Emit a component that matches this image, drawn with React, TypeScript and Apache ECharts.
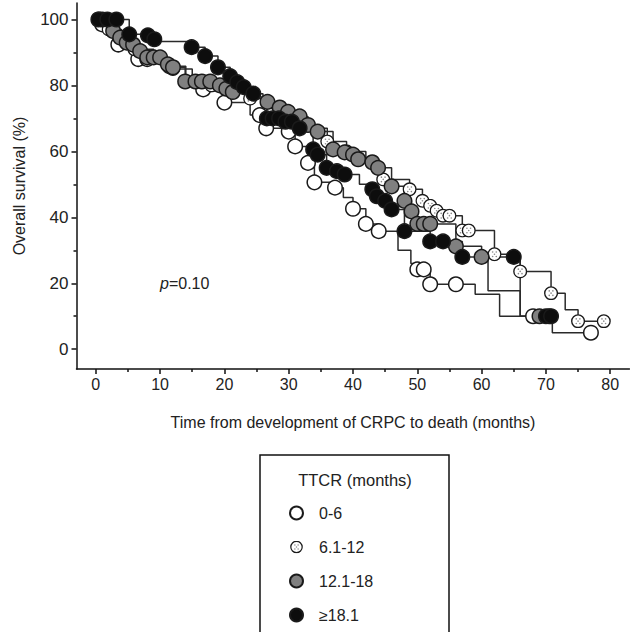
import React, { useEffect, useRef } from "react";
import * as echarts from "echarts";

const FONT = "'Liberation Sans', Arial, sans-serif";

const groupNames = ["0-6", "6.1-12", "12.1-18", "≥18.1"];
const xTickValues = [0, 10, 20, 30, 40, 50, 60, 70, 80];
const xMinorValues = [5, 15, 25, 35, 45, 55, 65, 75];
const yTickValues = [0, 20, 40, 60, 80, 100];
const yMinorValues = [10, 30, 50, 70, 90];

// KM step curves [months, survival %]
const whiteSteps = [[0,100],[1,98.5],[3.5,92.4],[6.6,88],[11.5,85.8],[14,82],[16.7,78.8],[20,74.8],[24,71],[26.5,67],[30,66],[31,61.5],[33,56.5],[34,50.6],[37.2,49],[38.5,46],[40,42.6],[42,38],[44,35.8],[47,30],[49,26],[50,24.2],[52,19.7],[59,16.7],[62.8,10],[71,5],[77,5]];
const whiteMarks = [[0.5,100],[1,98.5],[3.5,92.4],[6.6,88],[8,88],[11.5,85.8],[16.7,78.8],[20,74.8],[25.5,71],[26.5,67],[30,66],[31,61.5],[33,56.5],[34,50.6],[37.2,49],[40,42.6],[42,38],[44,35.8],[50,24.2],[51,24.2],[52,19.7],[56,19.7],[68,10],[77,5]];

const dottedSteps = [[0,100],[2,97],[4,94],[6,91],[9,88],[12,85],[15,82],[18,80],[21,78],[24,76],[27,73],[30,70],[33,67],[36,63],[39,60],[42,56],[44.7,51.5],[48.8,48.5],[50.8,45],[52,43.5],[53,42],[54,40.5],[57,36],[62,28.8],[66,23.6],[70.8,17],[73,12],[75,8.5],[79,8.5]];
const dottedMarks = [[2,97],[6,91],[12,85],[18,80],[24,76],[30,70],[36,63],[39,60],[44.7,51.5],[48.8,48.5],[50.8,45],[52,43.5],[53,42],[54,40.5],[55,40.5],[57,36],[58,36],[62,28.8],[66,23.6],[70.8,17],[75,8.5],[79,8.5]];

const graySteps = [[0,100],[2.7,96.5],[3.8,94.5],[4.8,93],[5.8,92.4],[6.9,90.4],[8,88.5],[11.2,86.4],[12,85.5],[13.9,81.2],[19.3,80],[20.3,79],[21.3,78],[24,76.5],[26.7,75],[28.6,73.3],[29.9,72],[31.7,70.6],[33,68],[34.5,66],[36.9,60.6],[38.7,59.7],[40,59],[40.8,57.6],[43,56.7],[43.9,55],[46,49.4],[48,45],[49.1,41.8],[50,38],[56,31.2],[60,28],[61,17.7],[66,10],[71,10]];
const grayMarks = [[1,100],[2.7,96.5],[3.8,94.5],[4.8,93],[5.8,92.4],[6.9,90.4],[8,88.5],[9,88.5],[10,88.5],[11.2,86.4],[12,85.5],[13.9,81.2],[15.5,81.2],[16.5,81.2],[17.8,81.2],[19.3,80],[20.3,79],[21.3,78],[26.7,75],[28.6,73.3],[29.9,72],[31.7,70.6],[33,68],[34.5,66],[36.9,60.6],[38.7,59.7],[40,59],[40.8,57.6],[43,56.7],[43.9,55],[46,49.4],[48,45],[49.1,41.8],[50,38],[51,38],[52,38],[56,31.2],[60,28],[69,10],[70.5,10]];

const blackSteps = [[0,100],[3.2,100],[5.2,95.5],[8.1,95.2],[9.1,94],[10,93.3],[14.9,91.6],[17,88.9],[19,85.5],[20.9,82.8],[22,81],[23,79.5],[24.5,77.5],[26,75],[26.6,70],[29.5,69],[31.7,67],[33.8,60.6],[34.5,59],[35.9,55],[37.5,54],[38.7,53],[41,50],[43,48.5],[43.7,46.4],[45,45],[46,42.4],[48,35.8],[52,32.7],[57,28],[66,10],[71,10]];
const blackMarks = [[0.4,100],[1.8,100],[3.2,100],[5.2,95.5],[8.1,95.2],[9.1,94],[14.9,91.6],[17,88.9],[19,85.5],[20.9,82.8],[22,81],[23,79.5],[24.5,77.5],[26.6,70],[27.5,70],[28.5,70],[29.5,69],[30.5,69],[31.7,67],[33.8,60.6],[34.5,59],[35.9,55],[37.5,54],[38.7,53],[43,48.5],[43.7,46.4],[45,45],[46,42.4],[48,35.8],[52,32.7],[54,32.7],[57,28],[65,28],[70,10],[70.8,10]];

const dottedSvg =
  '<svg xmlns="http://www.w3.org/2000/svg" width="32" height="32" viewBox="0 0 16 16">' +
  '<circle cx="8" cy="8" r="7" fill="#ffffff" stroke="#1a1a1a" stroke-width="1.5"/>' +
  '<circle cx="6" cy="5.5" r="0.9" fill="#8a8a8a"/><circle cx="10" cy="5.5" r="0.9" fill="#8a8a8a"/>' +
  '<circle cx="6" cy="10.5" r="0.9" fill="#8a8a8a"/><circle cx="10" cy="10.5" r="0.9" fill="#8a8a8a"/>' +
  '<circle cx="8" cy="8" r="0.9" fill="#8a8a8a"/>' +
  "</svg>";
const dottedSymbol = "image://data:image/svg+xml;utf8," + encodeURIComponent(dottedSvg);

export default function App() {
  const ref = useRef<HTMLDivElement>(null);
  useEffect(() => {
    if (!ref.current) return;
    const chart = echarts.init(ref.current, undefined, { renderer: "svg" });
    const gridPos = { left: 76.5, top: 3, width: 553, height: 366 };
    const lineSeries = (data: number[][], idx: number) => ({
      type: "line",
      name: "curve" + idx,
      data,
      step: "end",
      showSymbol: false,
      symbol: "none",
      lineStyle: { color: "#2a2a2a", width: 1.5 },
      xAxisIndex: 0,
      yAxisIndex: 0,
      z: 2,
      silent: true,
    });
    const markSeries = (data: number[][], name: string, fill: string, symbol: string) => ({
      type: "scatter",
      name,
      data,
      symbol,
      symbolSize: 14.5,
      itemStyle: { color: fill, borderColor: "#1a1a1a", borderWidth: 1.5, opacity: 1 },
      xAxisIndex: 0,
      yAxisIndex: 0,
      z: 3,
    });
    const option: any = {
      animation: false,
      textStyle: { fontFamily: FONT },
      grid: [
        { ...gridPos, containLabel: false },
        { ...gridPos, containLabel: false },
      ],
      xAxis: [
        {
          type: "value",
          gridIndex: 0,
          min: -3,
          max: 83,
          position: "bottom",
          axisLine: { show: true, onZero: false, lineStyle: { color: "#111", width: 1.5 } },
          axisTick: { show: true, customValues: xTickValues, length: 5, lineStyle: { color: "#111", width: 1.5 } },
          axisLabel: { customValues: xTickValues, fontSize: 16, color: "#222", margin: 7, fontFamily: FONT },
          splitLine: { show: false },
          name: "Time from development of CRPC to death (months)",
          nameLocation: "middle",
          nameGap: 45,
          nameTextStyle: { fontSize: 16, color: "#222", fontFamily: FONT },
        },
        {
          type: "value",
          gridIndex: 1,
          min: -3,
          max: 83,
          position: "bottom",
          axisLine: { show: false, onZero: false },
          axisTick: { show: true, customValues: xMinorValues, length: 3, lineStyle: { color: "#111", width: 1.5 } },
          axisLabel: { show: false },
          splitLine: { show: false },
        },
      ],
      yAxis: [
        {
          type: "value",
          gridIndex: 0,
          min: -6,
          max: 105,
          position: "left",
          axisLine: { show: true, onZero: false, lineStyle: { color: "#111", width: 1.5 } },
          axisTick: { show: true, customValues: yTickValues, length: 5, lineStyle: { color: "#111", width: 1.5 } },
          axisLabel: { customValues: yTickValues, fontSize: 17, color: "#222", margin: 8, fontFamily: FONT },
          splitLine: { show: false },
          name: "Overall survival (%)",
          nameLocation: "middle",
          nameGap: 49,
          nameTextStyle: { fontSize: 16, color: "#222", fontFamily: FONT },
        },
        {
          type: "value",
          gridIndex: 1,
          min: -6,
          max: 105,
          position: "left",
          axisLine: { show: false, onZero: false },
          axisTick: { show: true, customValues: yMinorValues, length: 3, lineStyle: { color: "#111", width: 1.5 } },
          axisLabel: { show: false },
          splitLine: { show: false },
        },
      ],
      legend: {
        data: groupNames,
        orient: "vertical",
        left: 274,
        top: 500,
        height: 200,
        padding: 5,
        itemWidth: 35,
        itemHeight: 13,
        itemGap: 18,
        selectedMode: false,
        textStyle: { fontSize: 16, color: "#222", fontFamily: FONT },
      },
      graphic: [
        {
          type: "rect",
          shape: { x: 260, y: 455, width: 189, height: 200 },
          style: { fill: "none", stroke: "#111", lineWidth: 1.5 },
          z: 10,
        },
        {
          type: "text",
          x: 355,
          y: 480,
          style: { text: "TTCR (months)", fontSize: 16.5, fill: "#222", fontFamily: FONT, align: "center", verticalAlign: "middle" },
          z: 10,
        },
        {
          type: "text",
          x: 160,
          y: 283,
          style: {
            text: "{i|p}=0.10",
            fontSize: 16,
            fill: "#222",
            fontFamily: FONT,
            verticalAlign: "middle",
            rich: { i: { fontStyle: "italic", fontSize: 16, fontFamily: FONT, fill: "#222" } },
          },
          z: 10,
        },
      ],
      series: [
        lineSeries(whiteSteps, 0),
        lineSeries(dottedSteps, 1),
        lineSeries(graySteps, 2),
        lineSeries(blackSteps, 3),
        markSeries(whiteMarks, groupNames[0], "#ffffff", "circle"),
        markSeries(dottedMarks, groupNames[1], "#ffffff", dottedSymbol),
        markSeries(grayMarks, groupNames[2], "#808080", "circle"),
        markSeries(blackMarks, groupNames[3], "#0d0d0d", "circle"),
      ],
    };
    chart.setOption(option);
    return () => chart.dispose();
  }, []);
  return (
    <div
      ref={ref}
      style={{ position: "fixed", left: 0, top: 0, width: 630, height: 632, background: "#fff" }}
    />
  );
}
